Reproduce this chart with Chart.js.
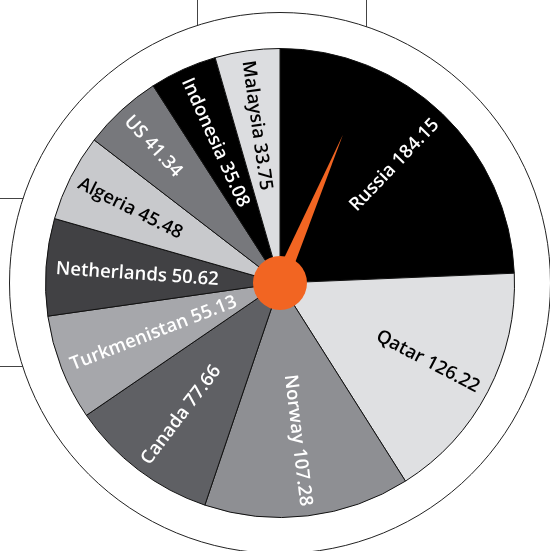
<!DOCTYPE html>
<html>
<head>
<meta charset="utf-8">
<script src="https://cdn.jsdelivr.net/npm/chart.js@4"></script>
<style>
  html, body { margin: 0; padding: 0; background: #fff; }
  canvas { display: block; }
</style>
</head>
<body>
<canvas id="grafica" width="550" height="551"></canvas>
<script>
let paises = ["Russia", "Qatar", "Norway", "Canada", "Turkmenistan", "Netherlands", "Algeria", "US", "Indonesia", "Malaysia"];
let valores = [184.15, 126.22, 107.28, 77.66, 55.13, 50.62, 45.48, 41.34, 35.08, 33.75];
let colores = ["#000000", "#dfe0e2", "#8e8f93", "#5f6064", "#a6a7ab", "#414144", "#c8c9cc", "#77787c", "#000000", "#dcdde0"];
let coloresTexto = ["#fff", "#000", "#fff", "#fff", "#fff", "#fff", "#000", "#fff", "#fff", "#000"];

// fondo: marco y circulo exterior
let fondo = {
    id: "fondo",
    beforeDraw(chart) {
        let c = chart.ctx;
        let arco = chart.getDatasetMeta(0).data[0];
        let cx = arco.x, cy = arco.y;
        c.save();
        c.fillStyle = "#fff";
        c.fillRect(0, 0, chart.width, chart.height);
        c.strokeStyle = "#444";
        c.lineWidth = 1;
        c.beginPath();
        c.moveTo(197.5, 0); c.lineTo(197.5, cy);
        c.moveTo(366.5, 0); c.lineTo(366.5, cy);
        c.moveTo(0, 198.5); c.lineTo(cx, 198.5);
        c.moveTo(0, 366.5); c.lineTo(cx, 366.5);
        c.stroke();
        c.beginPath();
        c.arc(cx, cy, arco.outerRadius + 36, 0, Math.PI * 2);
        c.fillStyle = "#fff";
        c.fill();
        c.strokeStyle = "#222";
        c.stroke();
        c.restore();
    }
};

// etiquetas radiales, aguja y centro naranja
let etiquetas = {
    id: "etiquetas",
    afterDraw(chart) {
        let c = chart.ctx;
        let arcos = chart.getDatasetMeta(0).data;
        c.save();
        c.font = "600 18.5px 'Open Sans'";
        c.textBaseline = "middle";
        arcos.forEach((a, i) => {
            let medio = (a.startAngle + a.endAngle) / 2;
            let r = a.outerRadius - 10;
            let texto = paises[i] + " " + valores[i].toFixed(2);
            c.save();
            c.translate(a.x + r * Math.cos(medio), a.y + r * Math.sin(medio));
            if (Math.cos(medio) >= 0) {
                c.rotate(medio);
                c.textAlign = "right";
            } else {
                c.rotate(medio + Math.PI);
                c.textAlign = "left";
            }
            c.fillStyle = coloresTexto[i];
            c.fillText(texto, 0, 1);
            c.restore();
        });

        let cx = arcos[0].x, cy = arcos[0].y;
        let ang = (23 - 90) * Math.PI / 180;
        let largo = 161;
        c.fillStyle = "#f26522";
        c.beginPath();
        c.moveTo(cx + largo * Math.cos(ang), cy + largo * Math.sin(ang));
        c.lineTo(cx + 7 * Math.cos(ang + Math.PI / 2), cy + 7 * Math.sin(ang + Math.PI / 2));
        c.lineTo(cx + 7 * Math.cos(ang - Math.PI / 2), cy + 7 * Math.sin(ang - Math.PI / 2));
        c.closePath();
        c.fill();
        c.beginPath();
        c.arc(cx, cy, 27, 0, Math.PI * 2);
        c.fill();
        c.restore();
    }
};

let ctx = document.getElementById("grafica").getContext("2d");

let grafica = new Chart(ctx, {
    type: "pie",
    data: {
        labels: paises,
        datasets: [{
            data: valores,
            backgroundColor: colores,
            borderColor: "#111",
            borderWidth: 1,
            hoverOffset: 0
        }]
    },
    options: {
        responsive: false,
        animation: false,
        layout: { padding: { left: 45, right: 35, top: 48, bottom: 33 } },
        plugins: {
            legend: { display: false },
            tooltip: { enabled: false }
        }
    },
    plugins: [fondo, etiquetas]
});
</script>
</body>
</html>
